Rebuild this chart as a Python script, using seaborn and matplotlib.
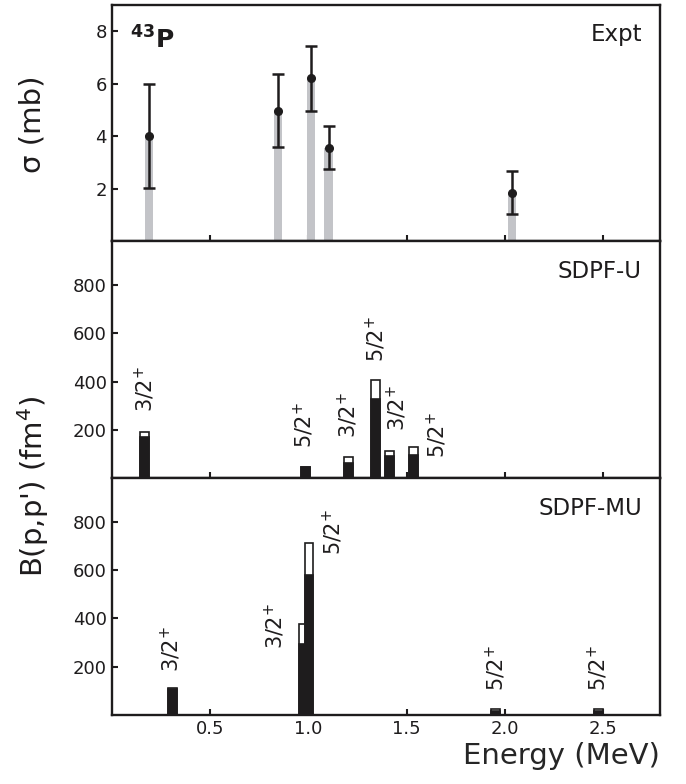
import numpy as np
import matplotlib
matplotlib.use("Agg")
import matplotlib.pyplot as plt
import seaborn as sns

# --- Expt (cross sections, mb) ---
expt_energy = [0.188, 0.845, 1.013, 1.103, 2.037]
expt_sigma = [4.00, 4.95, 6.20, 3.56, 1.86]
expt_sigma_hi = [5.97, 6.35, 7.42, 4.40, 2.66]
expt_sigma_lo = [2.02, 3.60, 4.96, 2.75, 1.04]

# --- SDPF-U (B(p,p'), fm^4): black lower part + white upper part ---
sdpfu_energy = [0.166, 0.986, 1.204, 1.341, 1.412, 1.534]
sdpfu_black = [171, 47, 63, 329, 91, 95]
sdpfu_white = [20, 0, 25, 76, 21, 34]
sdpfu_spin = ["3/2", "5/2", "3/2", "5/2", "3/2", "5/2"]

# --- SDPF-MU ---
sdpfmu_energy = [0.307, 0.976, 1.004, 1.955, 2.476]
sdpfmu_black = [109, 295, 578, 17, 17]
sdpfmu_white = [2, 81, 132, 9, 9]
sdpfmu_spin = ["3/2", "3/2", "5/2", "5/2", "5/2"]

# where the rotated spin labels sit (x, bottom of text), data coords
sdpfu_label_xy = [(0.168, 273), (0.978, 124), (1.202, 165),
                  (1.343, 480), (1.450, 195), (1.655, 83)]
sdpfmu_label_xy = [(0.300, 177), (0.830, 274), (1.127, 664),
                   (1.955, 100), (2.476, 100)]

INK = "#1e1c1d"
GRAY = "#c3c4c8"

sns.set_theme(style="ticks")
plt.rcParams.update({
    "font.family": ["DejaVu Sans"],
    "mathtext.default": "regular",
    "axes.linewidth": 1.7,
    "axes.edgecolor": INK,
    "xtick.direction": "in",
    "ytick.direction": "in",
    "xtick.major.size": 4.5,
    "ytick.major.size": 4.5,
    "xtick.major.width": 1.5,
    "ytick.major.width": 1.5,
    "xtick.color": INK,
    "ytick.color": INK,
    "xtick.labelsize": 13,
    "ytick.labelsize": 13,
    "text.color": INK,
})


def draw_bars(ax, x, heights, bar_width, **kw):
    # seaborn's native-scale width is relative to the smallest gap between x values
    gaps = np.diff(np.unique(x))
    unit = gaps.min() if len(gaps) else 1.0
    sns.barplot(x=x, y=heights, native_scale=True, width=bar_width / unit,
                errorbar=None, saturation=1, ax=ax, **kw)


def draw_model(ax, energy, black, white, spins, label_xy, name):
    total = [b + w for b, w in zip(black, white)]
    draw_bars(ax, energy, total, 0.045, color="white", edgecolor=INK, linewidth=1.2)
    draw_bars(ax, energy, black, 0.045, color=INK, edgecolor=INK, linewidth=1.2)
    for spin, (lx, ly) in zip(spins, label_xy):
        ax.text(lx, ly, spin + "$^{+}$", rotation=90, ha="center", va="bottom",
                fontsize=15)
    ax.text(0.967, 0.845, name, transform=ax.transAxes, ha="right",
            va="baseline", fontsize=16.5)
    ax.set_ylim(0, 980)
    ax.set_yticks([200, 400, 600, 800])


fig, axes = plt.subplots(3, 1, figsize=(6.86, 7.84), dpi=100, sharex=True)
fig.subplots_adjust(left=0.163, right=0.962, top=0.994, bottom=0.088, hspace=0)

# top: experiment
ax = axes[0]
draw_bars(ax, expt_energy, expt_sigma, 0.042, color=GRAY, linewidth=0)
yerr = np.array([np.subtract(expt_sigma, expt_sigma_lo),
                 np.subtract(expt_sigma_hi, expt_sigma)])
ax.errorbar(expt_energy, expt_sigma, yerr=yerr, fmt="o", color=INK,
            markersize=5.5, elinewidth=1.8, capsize=4, capthick=1.8)
ax.set_ylim(0, 9)
ax.set_yticks([2, 4, 6, 8])
ax.text(0.967, 0.845, "Expt", transform=ax.transAxes, ha="right",
        va="baseline", fontsize=16.5)
ax.text(0.033, 0.814, r"$\mathbf{^{43}P}$", transform=ax.transAxes,
        ha="left", va="baseline", fontsize=18)

draw_model(axes[1], sdpfu_energy, sdpfu_black, sdpfu_white, sdpfu_spin,
           sdpfu_label_xy, "SDPF-U")
draw_model(axes[2], sdpfmu_energy, sdpfmu_black, sdpfmu_white, sdpfmu_spin,
           sdpfmu_label_xy, "SDPF-MU")

for ax in axes:
    ax.set_xlim(0, 2.79)
    ax.set_xticks([0.5, 1.0, 1.5, 2.0, 2.5])
    ax.set_xlabel("")
    ax.set_ylabel("")
    ax.tick_params(top=False, right=False)

axes[2].set_xlabel("Energy (MeV)", loc="right", fontsize=21, labelpad=3)
fig.text(0.048, 0.842, "σ (mb)", rotation=90, ha="center", va="center", fontsize=21)
fig.text(0.048, 0.38, "B(p,p') (fm$^{4}$)", rotation=90, ha="center",
         va="center", fontsize=21)

plt.savefig("out.png", dpi=100)
plt.close()
